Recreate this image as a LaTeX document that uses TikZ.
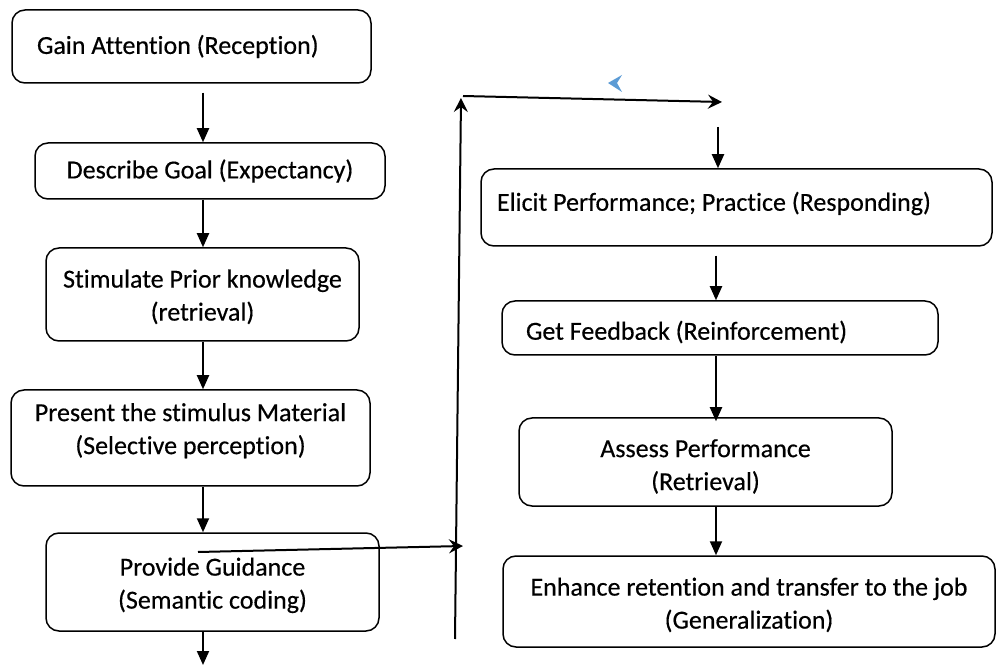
\documentclass[tikz,border=0pt]{standalone}
\usepackage{fontspec}
\setmainfont{Carlito}[Ligatures=NoCommon,FakeBold=0.4]
\usetikzlibrary{arrows.meta}
\newcommand\liftby[2]{\raisebox{#1}[\height][\depth]{#2}}
\newcommand\twolines[2]{\begin{tabular}{@{}c@{}}#1\\#2\end{tabular}}
\begin{document}
\begin{tikzpicture}[x=1pt,y=-1pt,
  box/.style={draw,line width=1.5pt,rounded corners=13pt,inner sep=0pt,
    font=\fontsize{26}{33}\selectfont},
  varr/.style={line width=2pt,-{Triangle[length=14pt,width=12pt]}},
  sarr/.style={line width=2pt,-{Stealth[length=14pt,width=14pt,inset=5pt]}}]
\useasboundingbox (0,0) rectangle (997,668);
% left column
\node[box,minimum width=359pt,minimum height=73pt] (b1) at (191.5,46.5) {\makebox[309pt][l]{Gain Attention (Reception)}};
\node[box,minimum width=350pt,minimum height=56pt] (b2) at (210,171) {Describe Goal (Expectancy)};
\node[box,minimum width=313pt,minimum height=93pt] (b3) at (202.5,294.5) {\liftby{-3pt}{\twolines{Stimulate Prior knowledge}{(retrieval)}}};
\node[box,minimum width=359pt,minimum height=96pt] (b4) at (190.5,438) {\liftby{7pt}{\twolines{Present the stimulus Material}{(Selective perception)}}};
\node[box,minimum width=333pt,minimum height=98pt] (b5) at (212.5,582) {\liftby{-3.5pt}{\twolines{Provide Guidance}{(Semantic coding)}}};
% right column
\node[box,minimum width=511pt,minimum height=77pt] (b6) at (736.5,207.5) {\liftby{4pt}{\makebox[479pt][l]{Elicit Performance; Practice (Responding)}}};
\node[box,minimum width=436pt,minimum height=54pt] (b7) at (720,328) {\liftby{-4pt}{\makebox[388pt][l]{Get Feedback (Reinforcement)}}};
\node[box,minimum width=373pt,minimum height=88pt] (b8) at (705.5,462) {\liftby{-5pt}{\twolines{Assess Performance}{(Retrieval)}}};
\node[box,minimum width=492pt,minimum height=91pt] (b9) at (749,601.5) {\liftby{-4pt}{\twolines{Enhance retention and transfer to the job}{(Generalization)}}};
% column coordinates
\coordinate (lx) at (203,0);
\coordinate (rx) at (716,0);
\coordinate (end) at (203,665);
% left arrows
\draw[varr,shorten <=9pt] (lx |- b1.south) -- (lx |- b2.north);
\draw[varr] (lx |- b2.south) -- (lx |- b3.north);
\draw[varr] (lx |- b3.south) -- (lx |- b4.north);
\draw[varr] (lx |- b4.south) -- (lx |- b5.north);
\draw[varr] (lx |- b5.south) -- (end);
% crossing path
\coordinate (g1) at (198,552);
\coordinate (g2) at (463,546);
\coordinate (v1) at (455,639);
\coordinate (v2) at (461,98);
\coordinate (h1) at (463,96);
\coordinate (h2) at (722,102);
\coordinate (d1) at (718,127);
\draw[sarr] (g1) -- (g2);
\draw[sarr] (v1) -- (v2);
\draw[sarr] (h1) -- (h2);
\draw[varr] (d1) -- (d1 |- b6.north);
\fill[fill={rgb,255:red,91;green,155;blue,213}] (608,83) -- (622,75) -- (617,83) -- (622,92) -- cycle;
% right arrows
\draw[varr,shorten <=9pt] (rx |- b6.south) -- (rx |- b7.north);
\draw[varr] (rx |- b7.south) -- ([yshift=-4pt]rx |- b8.north);
\draw[varr] (rx |- b8.south) -- (rx |- b9.north);
\end{tikzpicture}
\end{document}
